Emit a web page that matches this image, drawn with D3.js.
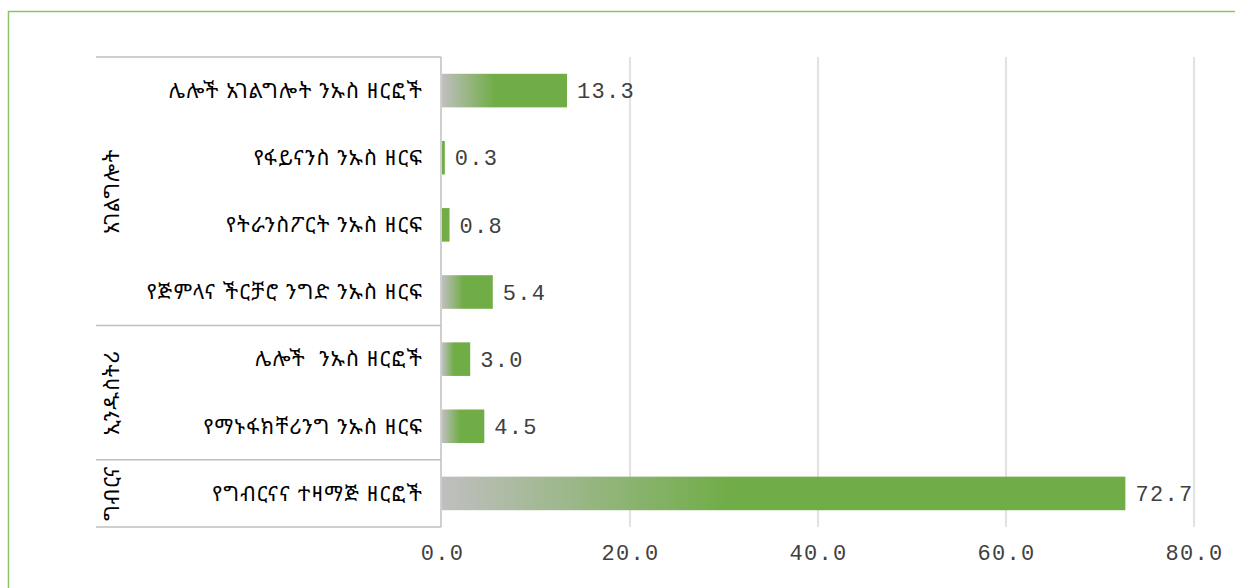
<!DOCTYPE html>
<html><head><meta charset="utf-8">
<script src="https://cdn.jsdelivr.net/npm/d3@7/dist/d3.min.js"></script>
<style>body{margin:0;background:#fff;overflow:hidden}</style>
</head><body>
<svg id="c" width="1235" height="588"></svg>
<script>
const categories = [
  "ሌሎች አገልግሎት ንኡስ ዘርፎች",
  "የፋይናንስ ንኡስ ዘርፍ",
  "የትራንስፖርት ንኡስ ዘርፍ",
  "የጅምላና ችርቻሮ ንግድ ንኡስ ዘርፍ",
  "ሌሎች  ንኡስ ዘርፎች",
  "የማኑፋክቸሪንግ ንኡስ ዘርፍ",
  "የግብርናና ተዛማጅ ዘርፎች"
];
const values = [13.3, 0.3, 0.8, 5.4, 3.0, 4.5, 72.7];
const groups = ["አገልግሎት", "ኢንዱስትሪ", "ግብርና"];
const groupSizes = [4, 2, 1];
const xTicks = [0, 20, 40, 60, 80];

const svg = d3.select("#c");
const ethFont = "'Noto Sans Ethiopic','Abyssinica SIL','Nyala','Noto Serif Ethiopic',serif";
const numFont = "'Liberation Mono','DejaVu Sans Mono',monospace";

// outer border
svg.append("rect").attr("x", 8.5).attr("y", 11.5).attr("width", 1240).attr("height", 600)
  .attr("fill", "none").attr("stroke", "#8dc26a").attr("stroke-width", 1.5);

const x = d3.scaleLinear().domain([0, 80]).range([442, 1194]);
const y = d3.scaleBand().domain(d3.range(categories.length)).range([57, 527])
  .paddingInner(0.5).paddingOuter(0.25);

// gridlines
svg.append("g").selectAll("line").data(xTicks.slice(1)).join("line")
  .attr("x1", d => x(d)).attr("x2", d => x(d)).attr("y1", 57).attr("y2", 527)
  .attr("stroke", "#d9d9d9").attr("stroke-width", 1.5);

// x axis labels
const xAxis = d3.axisBottom(x).tickValues(xTicks).tickFormat(d3.format(".1f")).tickSize(0).tickPadding(0);
const ax = svg.append("g").attr("transform", "translate(0,543)").call(xAxis);
ax.select(".domain").remove();
ax.selectAll("text").attr("font-family", numFont).attr("font-size", 22)
  .attr("letter-spacing", 1.3).attr("fill", "#404040").attr("dy", "0.75em");

// gradient
const defs = svg.append("defs");
const grad = defs.append("linearGradient").attr("id", "g").attr("x1", "0").attr("x2", "1").attr("y1", "0").attr("y2", "0");
grad.append("stop").attr("offset", "0").attr("stop-color", "#bfbfbf");
grad.append("stop").attr("offset", "0.42").attr("stop-color", "#70ad47");
grad.append("stop").attr("offset", "1").attr("stop-color", "#70ad47");

// bars
svg.append("g").selectAll("rect").data(values).join("rect")
  .attr("x", x(0)).attr("y", (d, i) => y(i))
  .attr("width", d => x(d) - x(0)).attr("height", y.bandwidth())
  .attr("fill", d => (x(d) - x(0)) < 12 ? "#70ad47" : "url(#g)");

// value labels
svg.append("g").selectAll("text").data(values).join("text")
  .attr("x", d => x(d) + 10).attr("y", (d, i) => y(i) + y.bandwidth() / 2)
  .attr("dy", "0.35em").attr("font-family", numFont).attr("font-size", 22)
  .attr("letter-spacing", 1.3).attr("fill", "#404040").text(d => d.toFixed(1));

// label table lines
const step = y.step();
const boundaries = [57];
let idx = 0;
groupSizes.forEach(n => { idx += n; boundaries.push(idx === categories.length ? 527 : y(idx) - step * y.paddingInner() / 2); });
svg.append("g").selectAll("line").data(boundaries).join("line")
  .attr("x1", 96).attr("x2", 441).attr("y1", d => d).attr("y2", d => d)
  .attr("stroke", "#bfbfbf").attr("stroke-width", 1.5);
svg.append("line").attr("x1", 441).attr("x2", 441).attr("y1", 57).attr("y2", 527)
  .attr("stroke", "#bfbfbf").attr("stroke-width", 1.5);

// category labels
svg.append("g").selectAll("text").data(categories).join("text")
  .attr("x", 423).attr("y", (d, i) => y(i) + y.bandwidth() / 2).attr("dy", "0.35em")
  .attr("text-anchor", "end").attr("font-family", ethFont).attr("font-size", 21)
  .attr("letter-spacing", 1.2)
  .attr("fill", "#000").attr("xml:space", "preserve").style("white-space", "pre").text(d => d);

// group labels
svg.append("g").selectAll("text").data(groups).join("text")
  .attr("transform", (d, i) => `translate(112,${(boundaries[i] + boundaries[i + 1]) / 2}) rotate(-90)`)
  .attr("text-anchor", "middle").attr("dy", "0.35em").attr("font-family", ethFont)
  .attr("font-size", 21).attr("letter-spacing", 1).attr("fill", "#000").text(d => d);
</script>
</body></html>
